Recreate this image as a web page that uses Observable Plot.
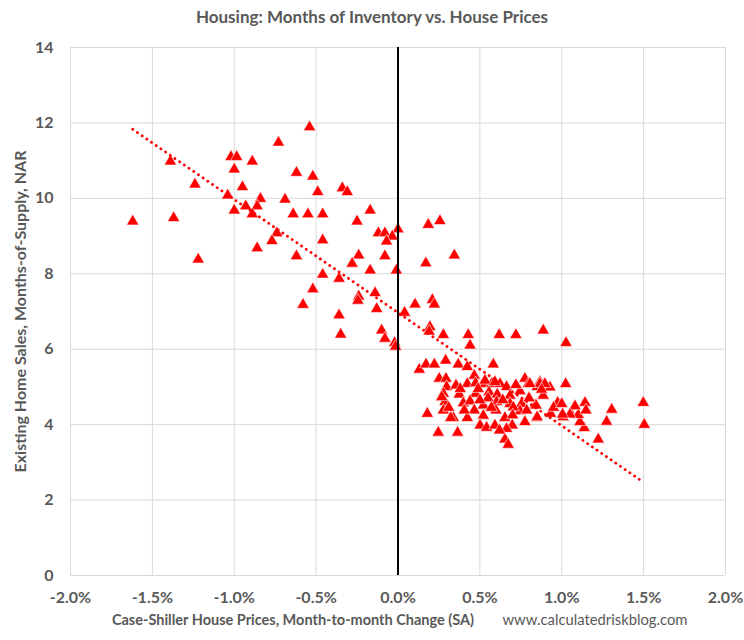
<!DOCTYPE html>
<html>
<head>
<meta charset="utf-8">
<script src="https://cdn.jsdelivr.net/npm/d3@7"></script>
<script src="https://cdn.jsdelivr.net/npm/@observablehq/plot@0.6"></script>
<style>
  html, body { margin: 0; padding: 0; background: #fff; }
  #wrap { width: 744px; height: 640px; position: relative; font-family: Lato, "Open Sans", sans-serif; }
  #title { height: 34px; line-height: 34px; text-align: center; font-weight: bold; font-size: 17px; color: #595959; }
</style>
</head>
<body>
<div id="wrap">
  <div id="title">Housing: Months of Inventory vs. House Prices</div>
  <div id="chart"></div>
</div>
<script>
// Case-Shiller month-to-month change (%)
const priceChange = [
  -1.62, -1.39, -1.24, -1.37, -1.22, -1.02, -0.985, -0.89, -1.00, -0.95,
  -1.04, -0.84, -1.00, -0.93, -0.86, -0.89, -0.74, -0.77, -0.86, -0.73,
  -0.54, -0.62, -0.52, -0.49, -0.34, -0.31, -0.69, -0.64, -0.55, -0.46,
  -0.17, -0.25, -0.46, -0.62, -0.24, -0.28, -0.08, -0.12, -0.08, 0.00,
  -0.035, -0.07, -0.46, -0.36, -0.17, -0.01, -0.52, -0.58, -0.24, -0.245,
  -0.14, -0.13, -0.36, -0.35, -0.10, -0.08, -0.02, -0.015, 0.04,
  0.185, 0.256, 0.17, 0.344, 0.104, 0.21, 0.222, 0.195, 0.19, 0.277,
  0.429, 0.44, 0.618, 0.72, 0.887, 1.026,
  0.13, 0.171, 0.222, 0.291, 0.368, 0.423, 0.582, 0.466, 0.252, 0.293,
  0.297, 0.354, 0.423, 0.474, 0.525, 0.572, 0.623, 0.663, 0.775, 0.796,
  0.85, 0.277, 0.374, 0.474, 0.556, 0.606, 0.684, 0.745, 0.287, 0.399,
  0.44, 0.521, 0.602, 0.684, 0.755, 0.836, 0.277, 0.338, 0.423, 0.466,
  0.521, 0.598, 0.653, 0.745, 0.775, 0.847, 0.179, 0.322, 0.501, 0.541,
  0.592, 0.698, 0.663, 0.246, 0.364, 0.653, 0.673, 0.531, 0.592, 0.867,
  0.928, 1.024, 0.267, 0.405, 0.704, 0.786, 1.056, 1.498, 1.504, 1.305,
  1.274, 1.223, 1.142, 1.137, 1.111, 1.101, 1.081, 1.148, 1.009, 0.975,
  0.932, 0.85, 0.843, 0.887, 0.867, 0.897, 0.877, 0.806, 1.05, 1.005,
  0.49, 0.55, 0.64, 0.70, 0.72, 0.38, 0.31, 0.62, 0.50, 0.57,
  0.80, 0.95, 1.00
];
// NAR months-of-supply, same order
const monthsSupply = [
  9.39, 10.98, 10.37, 9.48, 8.38, 11.1, 11.1, 10.98, 10.77, 10.3,
  10.08, 9.99, 9.68, 9.79, 9.79, 9.58, 9.08, 8.87, 8.68, 11.48,
  11.89, 10.68, 10.58, 10.17, 10.27, 10.17, 9.97, 9.58, 9.58, 9.58,
  9.68, 9.39, 8.89, 8.47, 8.49, 8.27, 8.47, 9.08, 9.08, 9.18,
  8.99, 8.86, 7.98, 7.87, 8.09, 8.09, 7.59, 7.18, 7.40, 7.29,
  7.49, 7.07, 6.90, 6.39, 6.50, 6.28, 6.17, 6.07, 6.97,
  9.30, 9.40, 8.28, 8.49, 7.19, 7.31, 7.19, 6.59, 6.47, 6.38,
  6.38, 6.10, 6.38, 6.38, 6.50, 6.17,
  5.46, 5.60, 5.60, 5.70, 5.60, 5.53, 5.60, 5.30, 5.22, 5.22,
  5.00, 5.04, 5.08, 5.10, 5.08, 5.08, 5.08, 5.00, 5.22, 5.08,
  5.00, 4.82, 4.80, 4.82, 4.86, 4.80, 4.77, 4.89, 4.60, 4.57,
  4.62, 4.51, 4.60, 4.55, 4.55, 4.51, 4.38, 4.18, 4.18, 4.38,
  4.24, 4.38, 4.18, 4.36, 4.07, 4.18, 4.29, 4.18, 3.98, 3.92,
  3.98, 3.98, 3.89, 3.79, 3.79, 3.61, 3.47, 5.17, 5.13, 5.13,
  4.99, 5.08, 4.73, 4.38, 4.46, 4.38, 4.29, 4.58, 4.00, 4.40,
  4.08, 3.61, 4.58, 3.91, 4.07, 4.26, 4.49, 4.38, 4.20, 4.58,
  4.29, 4.20, 4.51, 4.77, 5.08, 5.08, 4.93, 5.08, 4.27, 4.27,
  4.95, 4.70, 4.65, 4.25, 5.05, 4.95, 4.45, 3.85, 4.65, 4.45,
  4.70, 4.45, 4.55
];
// Dotted linear trend line end points
const trendX = [-1.62, 1.50];
const trendY = [11.83, 2.47];

const xTicks = [-2, -1.5, -1, -0.5, 0, 0.5, 1, 1.5, 2];
const yTicks = [0, 2, 4, 6, 8, 10, 12, 14];

const points = priceChange.map((x, i) => ({x, y: monthsSupply[i]}));
const trend = trendX.map((x, i) => ({x, y: trendY[i]}));

const gray = "#595959";
const chart = Plot.plot({
  width: 744,
  height: 606,
  marginTop: 13,
  marginBottom: 65,
  marginLeft: 70,
  marginRight: 19,
  x: {domain: [-2, 2]},
  y: {domain: [0, 14]},
  style: {fontFamily: "Lato, 'Open Sans', sans-serif", background: "white"},
  marks: [
    Plot.gridX(xTicks, {stroke: "#d9d9d9", strokeOpacity: 1, strokeWidth: 1}),
    Plot.gridY(yTicks, {stroke: "#d9d9d9", strokeOpacity: 1, strokeWidth: 1}),
    Plot.dot(points, {x: "x", y: "y", symbol: "triangle", r: 4.6, fill: "#ff0000", stroke: "white", strokeWidth: 0.6}),
    Plot.line(trend, {x: "x", y: "y", stroke: "#ff0000", strokeWidth: 2.8, strokeDasharray: "0.1,5.6", strokeLinecap: "round"}),
    Plot.ruleX([0], {stroke: "black", strokeWidth: 2}),
    Plot.axisX(xTicks, {tickSize: 0, tickPadding: 16, tickFormat: d => d.toFixed(1) + "%", fontSize: 16, fontWeight: "bold", fill: gray, label: null}),
    Plot.axisY(yTicks, {tickSize: 0, tickPadding: 17, tickFormat: d => String(d), fontSize: 16, fontWeight: "bold", fill: gray, label: null}),
    Plot.text(["Case-Shiller House Prices, Month-to-month Change (SA)"], {frameAnchor: "bottom", dx: -105, dy: 49, fontSize: 14.5, fontWeight: "bold", fill: gray, textAnchor: "middle"}),
    Plot.text(["www.calculatedriskblog.com"], {frameAnchor: "bottom", dx: 197, dy: 49, fontSize: 14.8, fill: gray, textAnchor: "middle"}),
    Plot.text(["Existing Home Sales, Months-of-Supply, NAR"], {frameAnchor: "left", dx: -50, rotate: -90, fontSize: 16, fontWeight: "bold", fill: gray, textAnchor: "middle"})
  ]
});
document.getElementById("chart").appendChild(chart);
</script>
</body>
</html>
